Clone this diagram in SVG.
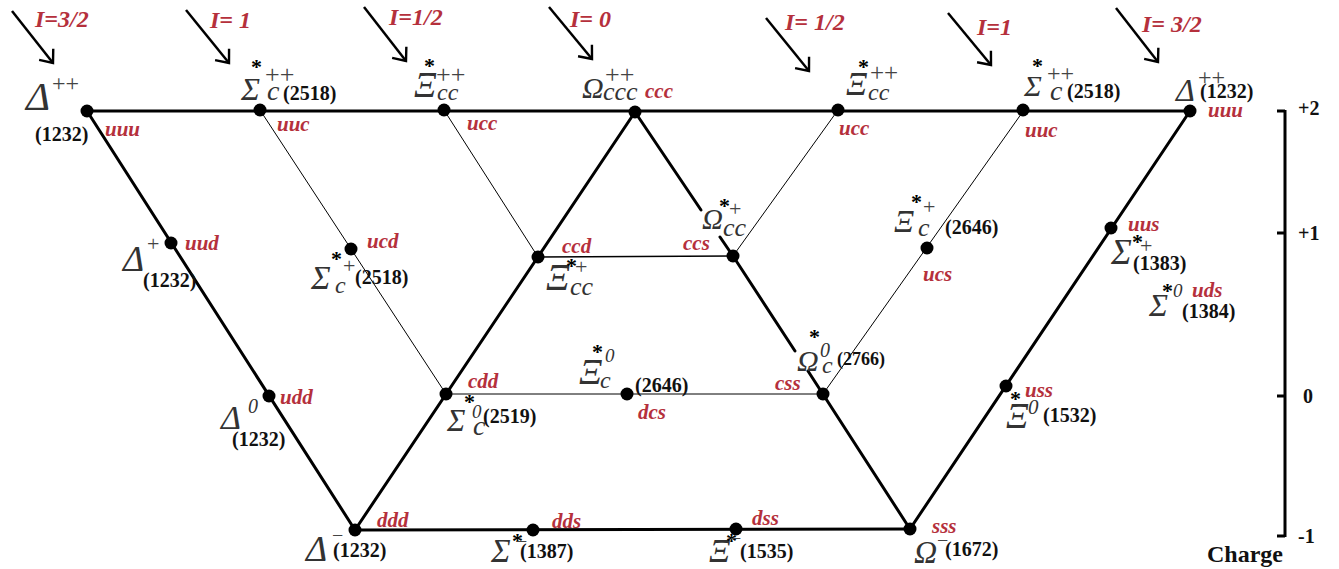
<svg xmlns="http://www.w3.org/2000/svg" width="1339" height="569" viewBox="0 0 1339 569">
<style>
.bg{fill:#fff}
.thick{stroke:#000;stroke-width:3;fill:none;stroke-linecap:round}
.thin{stroke:#000;stroke-width:1;fill:none}
.arr{stroke:#000;stroke-width:2.5;fill:none}
.dot{fill:#000}
text{font-family:"Liberation Serif","Times New Roman",serif}
.gk{font-style:italic;fill:#333}
.pl{fill:#444}
.z{font-style:italic;fill:#333}
.sb{font-style:italic;fill:#333}
.st{font-weight:bold;fill:#000;font-size:22px}
.m{font-weight:bold;fill:#111;font-size:20px}
.q{font-weight:bold;font-style:italic;fill:#b5303c;font-size:21px}
.iso{font-weight:bold;font-style:italic;fill:#b5303c;font-size:24px}
.ax{font-weight:bold;fill:#111;font-size:20px}
</style>
<defs>
<marker id="oa" markerUnits="userSpaceOnUse" markerWidth="30" markerHeight="30" viewBox="-15 -15 30 30" refX="0" refY="0" orient="auto">
<path d="M-11,-9 L0,0 L-11,9" fill="none" stroke="#000" stroke-width="2.4"/>
</marker>
</defs>
<rect class="bg" x="0" y="0" width="1339" height="569"/>

<g id="connectors">
<path class="thick" d="M87,111 H1190"/>
<path class="thick" d="M87,111 L355,530"/>
<path class="thick" d="M355,530 L910,529"/>
<path class="thick" d="M910,529 L1190,111"/>
<path class="thick" d="M355,530 L635,112"/>
<path class="thick" d="M635,112 L701,210"/>
<path class="thick" d="M720,237 L733,256 L795,351"/>
<path class="thick" d="M808,371 L910,529"/>
<path class="thin" d="M260,110 L446,394"/>
<path class="thin" d="M444,110 L538,257"/>
<path class="thin" d="M838,110 L733,256"/>
<path class="thin" d="M1024,110 L823,394"/>
<path class="thin" d="M538,257 L733,256" style="stroke-width:1.3"/>
<path class="thin" d="M446,394 H823"/>
</g>

<g id="isospin">
<line class="arr" x1="12" y1="11" x2="53" y2="63" marker-end="url(#oa)"/>
<line class="arr" x1="186" y1="10" x2="229" y2="63" marker-end="url(#oa)"/>
<line class="arr" x1="364" y1="7" x2="406" y2="61" marker-end="url(#oa)"/>
<line class="arr" x1="549" y1="7" x2="592" y2="59" marker-end="url(#oa)"/>
<line class="arr" x1="766" y1="18" x2="809" y2="71" marker-end="url(#oa)"/>
<line class="arr" x1="948" y1="13" x2="991" y2="65" marker-end="url(#oa)"/>
<line class="arr" x1="1116" y1="8" x2="1158" y2="62" marker-end="url(#oa)"/>
<text class="iso" x="35" y="27">I=3/2</text>
<text class="iso" x="210" y="28">I= 1</text>
<text class="iso" x="389" y="25">I=1/2</text>
<text class="iso" x="570" y="27">I= 0</text>
<text class="iso" x="785" y="30">I= 1/2</text>
<text class="iso" x="977" y="35">I=1</text>
<text class="iso" x="1142" y="32">I= 3/2</text>
</g>

<g id="charge-axis">
<path class="thick" d="M1285,110 V537" style="stroke-linecap:butt"/>
<path class="thick" d="M1277,111 H1285 M1277,233 H1285 M1277,396 H1285 M1277,536 H1285" style="stroke-linecap:butt"/>
<text class="ax" x="1298" y="115">+2</text>
<text class="ax" x="1298" y="240">+1</text>
<text class="ax" x="1303" y="403">0</text>
<text class="ax" x="1298" y="543">-1</text>
<text class="ax" x="1207" y="562" style="font-size:24px">Charge</text>
</g>

<g id="delta-pp-left">
<circle class="dot" cx="87" cy="111" r="6.5"/>
<text class="gk" x="26" y="110" font-size="41">Δ</text>
<text class="pl" x="52" y="91" font-size="24">++</text>
<text class="m" x="35" y="141">(1232)</text>
<text class="q" x="105" y="136">uuu</text>
</g>

<g id="sigma-c-pp-left">
<circle class="dot" cx="260" cy="110" r="6.5"/>
<text class="gk" x="241" y="100" font-size="32">Σ</text>
<text class="st" x="251" y="74">*</text>
<text class="pl" x="265" y="83" font-size="26">++</text>
<text class="sb" x="267" y="100" font-size="28">c</text>
<text class="m" x="283" y="100">(2518)</text>
<text class="q" x="277" y="131">uuc</text>
</g>

<g id="xi-cc-pp-left">
<circle class="dot" cx="444" cy="110" r="6.5"/>
<text class="gk" x="414" y="97" font-size="35">Ξ</text>
<text class="st" x="424" y="73">*</text>
<text class="pl" x="436" y="83" font-size="26">++</text>
<text class="sb" x="437" y="100" font-size="24">cc</text>
<text class="q" x="467" y="130">ucc</text>
</g>

<g id="omega-ccc-pp">
<circle class="dot" cx="635" cy="112" r="6.5"/>
<text class="gk" x="582" y="98" font-size="30">Ω</text>
<text class="pl" x="605" y="83" font-size="26">++</text>
<text class="sb" x="603" y="100" font-size="26">ccc</text>
<text class="q" x="645" y="98">ccc</text>
</g>

<g id="xi-cc-pp-right">
<circle class="dot" cx="838" cy="110" r="6.5"/>
<text class="gk" x="846" y="95" font-size="33">Ξ</text>
<text class="st" x="858" y="74">*</text>
<text class="pl" x="870" y="81" font-size="25">++</text>
<text class="sb" x="868" y="100" font-size="24">cc</text>
<text class="q" x="839" y="135">ucc</text>
</g>

<g id="sigma-c-pp-right">
<circle class="dot" cx="1023" cy="110" r="6.5"/>
<text class="gk" x="1024" y="96" font-size="30">Σ</text>
<text class="st" x="1032" y="73">*</text>
<text class="pl" x="1047" y="81" font-size="24">++</text>
<text class="sb" x="1050" y="100" font-size="28">c</text>
<text class="m" x="1067" y="98">(2518)</text>
<text class="q" x="1025" y="137">uuc</text>
</g>

<g id="delta-pp-right">
<circle class="dot" cx="1190" cy="111" r="6.5"/>
<text class="gk" x="1176" y="101" font-size="32">Δ</text>
<text class="pl" x="1198" y="85" font-size="24">++</text>
<text class="m" x="1200" y="98">(1232)</text>
<text class="q" x="1208" y="117">uuu</text>
</g>

<g id="delta-p">
<circle class="dot" cx="171" cy="243" r="6.5"/>
<text class="gk" x="123" y="271" font-size="36">Δ</text>
<text class="pl" x="147" y="251" font-size="22">+</text>
<text class="m" x="143" y="287">(1232)</text>
<text class="q" x="185" y="250">uud</text>
</g>

<g id="sigma-c-p">
<circle class="dot" cx="351" cy="249" r="6.5"/>
<text class="gk" x="311" y="289" font-size="33">Σ</text>
<text class="st" x="331" y="266">*</text>
<text class="pl" x="343" y="273" font-size="22">+</text>
<text class="sb" x="335" y="293" font-size="24">c</text>
<text class="m" x="355" y="284">(2518)</text>
<text class="q" x="367" y="248">ucd</text>
</g>

<g id="xi-cc-p">
<circle class="dot" cx="538" cy="257" r="6.5"/>
<text class="gk" x="546" y="290" font-size="37">Ξ</text>
<text class="st" x="566" y="273">*</text>
<text class="pl" x="575" y="274" font-size="22">+</text>
<text class="sb" x="570" y="295" font-size="26">cc</text>
<text class="q" x="562" y="253">ccd</text>
</g>

<g id="omega-cc-p">
<circle class="dot" cx="733" cy="256" r="6.5"/>
<text class="gk" x="702" y="229" font-size="29">Ω</text>
<text class="st" x="719" y="213">*</text>
<text class="pl" x="729" y="216" font-size="22">+</text>
<text class="sb" x="723" y="236" font-size="26">cc</text>
<text class="q" x="683" y="250">ccs</text>
</g>

<g id="xi-c-p">
<circle class="dot" cx="927" cy="248" r="6.5"/>
<text class="gk" x="894" y="232" font-size="31">Ξ</text>
<text class="st" x="911" y="209">*</text>
<text class="pl" x="923" y="214" font-size="22">+</text>
<text class="sb" x="918" y="236" font-size="26">c</text>
<text class="m" x="945" y="234">(2646)</text>
<text class="q" x="923" y="281">ucs</text>
</g>

<g id="sigma-p">
<circle class="dot" cx="1111" cy="228" r="6.5"/>
<text class="gk" x="1111" y="264" font-size="35">Σ</text>
<text class="st" x="1132" y="249">*</text>
<text class="pl" x="1140" y="253" font-size="22">+</text>
<text class="m" x="1133" y="270">(1383)</text>
<text class="q" x="1128" y="231">uus</text>
</g>

<g id="sigma-0">
<text class="gk" x="1149" y="316" font-size="32">Σ</text>
<text class="st" x="1162" y="298">*</text>
<text class="z" x="1173" y="297" font-size="19">0</text>
<text class="m" x="1182" y="318">(1384)</text>
<text class="q" x="1192" y="297">uds</text>
</g>

<g id="delta-0">
<circle class="dot" cx="269" cy="396" r="6.5"/>
<text class="gk" x="221" y="429" font-size="34">Δ</text>
<text class="z" x="248" y="413" font-size="20">0</text>
<text class="m" x="232" y="446">(1232)</text>
<text class="q" x="280" y="404">udd</text>
</g>

<g id="sigma-c-0">
<circle class="dot" cx="446" cy="394" r="6.5"/>
<text class="gk" x="447" y="431" font-size="31">Σ</text>
<text class="st" x="464" y="409">*</text>
<text class="z" x="472" y="418" font-size="19">0</text>
<text class="sb" x="473" y="435" font-size="28">c</text>
<text class="m" x="483" y="423">(2519)</text>
<text class="q" x="468" y="388">cdd</text>
</g>

<g id="xi-c-0">
<circle class="dot" cx="627" cy="394" r="6.5"/>
<text class="gk" x="579" y="384" font-size="36">Ξ</text>
<text class="st" x="592" y="359">*</text>
<text class="z" x="605" y="362" font-size="19">0</text>
<text class="sb" x="600" y="388" font-size="24">c</text>
<text class="m" x="635" y="392">(2646)</text>
<text class="q" x="638" y="419">dcs</text>
</g>

<g id="omega-c-0">
<circle class="dot" cx="823" cy="394" r="6.5"/>
<text class="gk" x="797" y="371" font-size="30">Ω</text>
<text class="st" x="809" y="344">*</text>
<text class="z" x="820" y="357" font-size="20">0</text>
<text class="sb" x="822" y="373" font-size="24">c</text>
<text class="m" x="837" y="365" style="font-size:18px">(2766)</text>
<text class="q" x="775" y="390">css</text>
</g>

<g id="xi-0">
<circle class="dot" cx="1006" cy="386" r="6.5"/>
<text class="gk" x="1006" y="428" font-size="35">Ξ</text>
<text class="st" x="1010" y="406">*</text>
<text class="z" x="1028" y="414" font-size="21">0</text>
<text class="m" x="1043" y="422">(1532)</text>
<text class="q" x="1025" y="397">uss</text>
</g>

<g id="delta-m">
<circle class="dot" cx="355" cy="530" r="6.5"/>
<text class="gk" x="306" y="561" font-size="36">Δ</text>
<text class="pl" x="332" y="542" font-size="20">−</text>
<text class="m" x="333" y="557">(1232)</text>
<text class="q" x="377" y="527">ddd</text>
</g>

<g id="sigma-m">
<circle class="dot" cx="533" cy="530" r="6.5"/>
<text class="gk" x="491" y="562" font-size="33">Σ</text>
<text class="st" x="512" y="548">*</text>
<text class="pl" x="516" y="548" font-size="20">−</text>
<text class="m" x="520" y="558">(1387)</text>
<text class="q" x="552" y="528">dds</text>
</g>

<g id="xi-m">
<circle class="dot" cx="736" cy="529" r="6.5"/>
<text class="gk" x="709" y="562" font-size="33">Ξ</text>
<text class="st" x="726" y="548">*</text>
<text class="pl" x="730" y="545" font-size="20">−</text>
<text class="m" x="740" y="558">(1535)</text>
<text class="q" x="752" y="525">dss</text>
</g>

<g id="omega-m">
<circle class="dot" cx="910" cy="529" r="6.5"/>
<text class="gk" x="914" y="563" font-size="32">Ω</text>
<text class="pl" x="937" y="547" font-size="20">−</text>
<text class="m" x="945" y="556">(1672)</text>
<text class="q" x="932" y="533">sss</text>
</g>
</svg>
